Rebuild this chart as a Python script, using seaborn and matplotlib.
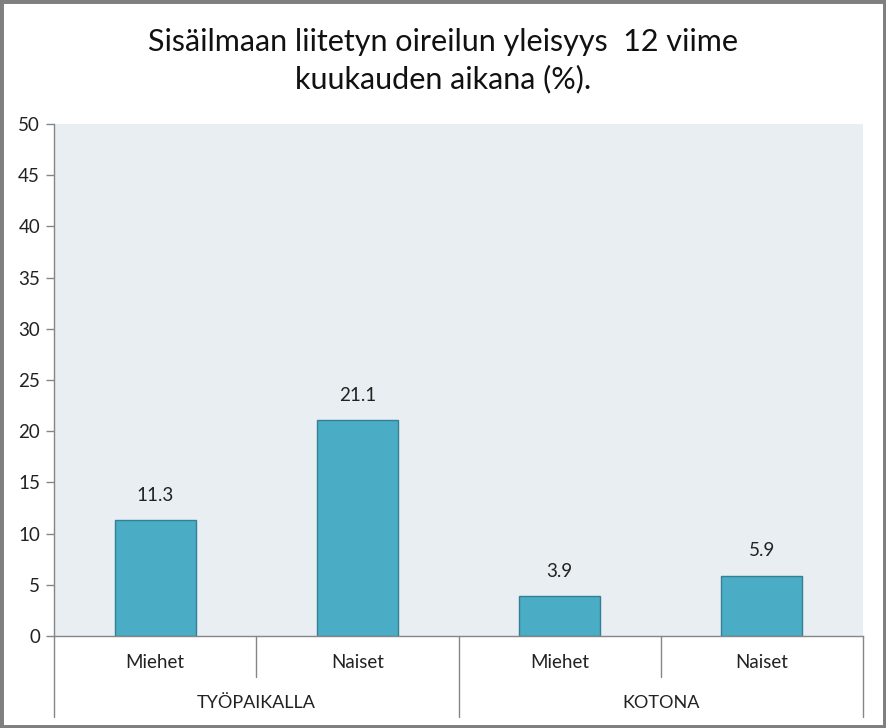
import matplotlib
matplotlib.use("Agg")
import matplotlib.pyplot as plt
import seaborn as sns
import pandas as pd

groups = ["TYÖPAIKALLA", "TYÖPAIKALLA", "KOTONA", "KOTONA"]
genders = ["Miehet", "Naiset", "Miehet", "Naiset"]
values = [11.3, 21.1, 3.9, 5.9]
yticks = [0, 5, 10, 15, 20, 25, 30, 35, 40, 45, 50]
title = "Sisäilmaan liitetyn oireilun yleisyys  12 viime\nkuukauden aikana (%)."

sns.set_theme(style="white")
plt.rcParams['font.family'] = ['Lato', 'DejaVu Sans']

df = pd.DataFrame({"cat": [f"{g} {s}" for g, s in zip(groups, genders)],
                   "group": groups, "gender": genders, "value": values})

W, H = 886, 728
fig = plt.figure(figsize=(W/100, H/100), dpi=100)
fig.patch.set_facecolor("white")
L, R, T, B = 54, 863, 124, 636
ax = fig.add_axes([L/W, 1-B/H, (R-L)/W, (B-T)/H])
ax.set_facecolor("#E8EEF2")

sns.barplot(data=df, x="cat", y="value", color="#4BACC6", width=0.4,
            edgecolor="#357F94", linewidth=1, saturation=1, ax=ax)

ax.set_ylim(0, 50)
ax.set_xlim(-0.5, 3.5)
ax.set_yticks(yticks)
ax.set_yticklabels([str(v) for v in yticks], fontsize=13.5, color="#222222")
ax.tick_params(axis="y", length=6, width=1, color="#868686", left=True, pad=4)
ax.set_xticks([])
ax.set_xlabel("")
ax.set_ylabel("")
for s in ["top", "right"]:
    ax.spines[s].set_visible(False)
for s in ["left", "bottom"]:
    ax.spines[s].set_color("#868686")
    ax.spines[s].set_linewidth(1)

for i, v in enumerate(values):
    ax.text(i, v + 1.6, f"{v:.1f}", ha="center", va="bottom", fontsize=13.5, color="#222222")

# two-level category axis
def ypix(p):
    return 1 - (p - T) / (B - T)

trans = ax.get_xaxis_transform()
y0 = 0
y_inner = ypix(677)
y_outer = ypix(717)
for xb in [-0.5, 1.5, 3.5]:
    ax.plot([xb, xb], [y0, y_outer], transform=trans, color="#868686", lw=1, clip_on=False)
for xb in [0.5, 2.5]:
    ax.plot([xb, xb], [y0, y_inner], transform=trans, color="#868686", lw=1, clip_on=False)
for i, g in enumerate(genders):
    ax.text(i, ypix(662), g, transform=trans, ha="center", va="center", fontsize=13.5, color="#222222")
for gi, gname in enumerate(["TYÖPAIKALLA", "KOTONA"]):
    ax.text(gi*2 + 0.5, ypix(703), gname, transform=trans, ha="center", va="center",
            fontsize=13, color="#222222")

fig.text(0.5, 1 - 61/H, title, ha="center", va="center", fontsize=22, color="#111111",
         linespacing=1.38)

# figure border
border = plt.Rectangle((0, 0), 1, 1, transform=fig.transFigure, fill=False,
                       edgecolor="#7F7F7F", linewidth=5, zorder=10)
fig.patches.append(border)

fig.savefig("out.png", dpi=100)
